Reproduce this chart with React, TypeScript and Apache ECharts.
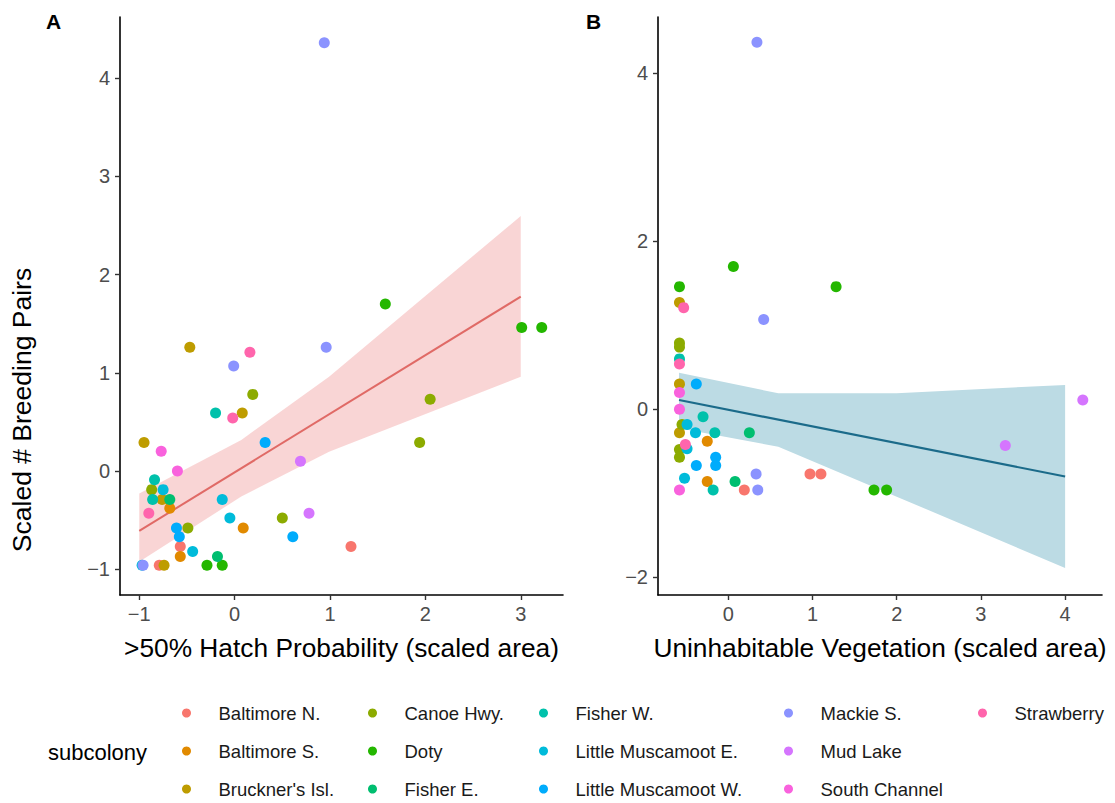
import React, { useEffect, useRef } from "react";
import * as echarts from "echarts";

const FONT = "'Liberation Sans', Arial, Helvetica, sans-serif";

const categories = [
  "Baltimore N.", "Baltimore S.", "Bruckner's Isl.", "Canoe Hwy.", "Doty", "Fisher E.",
  "Fisher W.", "Little Muscamoot E.", "Little Muscamoot W.", "Mackie S.", "Mud Lake",
  "South Channel", "Strawberry",
];
const palette = [
  "#F8766D", "#E18A00", "#BE9C00", "#8CAB00", "#24B700", "#00BE70", "#00C1AB",
  "#00BBDA", "#00ACFC", "#8B93FF", "#D575FE", "#F962DD", "#FF65AC",
];

// Panel A: [>50% hatch probability (scaled area), scaled # breeding pairs, category index]
const pointsHatch: number[][] = [
  [0.94, 4.36, 9], [-0.47, 1.26, 2], [0.16, 1.21, 12], [-0.01, 1.07, 9], [0.96, 1.26, 9],
  [1.58, 1.7, 4], [3.01, 1.46, 4], [3.22, 1.46, 4], [0.19, 0.78, 3], [-0.2, 0.59, 6],
  [-0.02, 0.54, 12], [0.08, 0.59, 2], [2.05, 0.73, 3], [-0.95, 0.29, 2], [0.32, 0.29, 8],
  [1.94, 0.29, 3], [-0.77, 0.2, 11], [0.69, 0.1, 10], [-0.6, 0.0, 11], [-0.84, -0.09, 6],
  [-0.87, -0.19, 3], [-0.75, -0.19, 7], [-0.86, -0.29, 6], [-0.76, -0.29, 2], [-0.68, -0.29, 5],
  [-0.68, -0.38, 1], [-0.9, -0.43, 12], [-0.13, -0.29, 7], [0.78, -0.43, 10], [-0.05, -0.48, 7],
  [0.5, -0.48, 3], [-0.61, -0.58, 8], [-0.49, -0.58, 3], [0.09, -0.58, 1], [-0.58, -0.67, 8],
  [0.61, -0.67, 8], [-0.57, -0.77, 0], [1.22, -0.77, 0], [-0.44, -0.82, 7], [-0.57, -0.87, 1],
  [-0.18, -0.87, 5], [-0.97, -0.96, 7], [-0.96, -0.96, 9], [-0.74, -0.96, 2], [-0.79, -0.96, 0],
  [-0.29, -0.96, 4], [-0.13, -0.96, 4],
];

// Panel B: [uninhabitable vegetation (scaled area), scaled # breeding pairs, category index]
const pointsVeg: number[][] = [
  [0.34, 4.37, 9], [0.06, 1.7, 4], [-0.58, 1.46, 4], [1.28, 1.46, 4], [-0.58, 1.27, 2],
  [-0.53, 1.21, 12], [0.42, 1.07, 9], [-0.58, 0.79, 3], [-0.58, 0.74, 3], [-0.58, 0.6, 6],
  [-0.58, 0.54, 12], [-0.58, 0.3, 2], [-0.38, 0.3, 8], [-0.58, 0.2, 11], [4.21, 0.11, 10],
  [-0.58, 0.0, 11], [-0.3, -0.09, 6], [-0.55, -0.18, 3], [-0.49, -0.18, 7], [-0.58, -0.28, 2],
  [-0.39, -0.28, 7], [-0.16, -0.28, 6], [0.25, -0.28, 5], [-0.25, -0.38, 1], [-0.51, -0.42, 12],
  [3.29, -0.43, 10], [-0.58, -0.48, 3], [-0.49, -0.47, 7], [-0.58, -0.57, 3], [-0.15, -0.57, 8],
  [-0.38, -0.67, 8], [-0.15, -0.67, 8], [0.33, -0.77, 9], [0.97, -0.77, 0], [1.1, -0.77, 0],
  [-0.52, -0.82, 7], [-0.25, -0.86, 1], [0.08, -0.86, 5], [-0.58, -0.96, 11], [-0.18, -0.96, 6],
  [0.19, -0.96, 0], [0.35, -0.96, 9], [1.73, -0.96, 4], [1.88, -0.96, 4],
];

// Fitted lines and confidence ribbons: [x, y] and [x, lower, upper]
const fitHatch = [[-1.0, -0.61], [3.0, 1.775]];
const ribbonHatch = [[-1.0, -0.924, -0.23], [0.07, -0.26, 0.316], [0.99, 0.197, 0.96], [3.0, 0.96, 2.597]];
const fitVeg = [[-0.585, 0.11], [4.0, -0.8]];
const ribbonVeg = [[-0.585, -0.226, 0.436], [0.594, -0.445, 0.19], [2.0, -1.04, 0.19], [4.0, -1.89, 0.29]];

const ticksHatchX = [-1, 0, 1, 2, 3];
const ticksHatchY = [-1, 0, 1, 2, 3, 4];
const ticksVegX = [0, 1, 2, 3, 4];
const ticksVegY = [-2, 0, 2, 4];

const legendColumns = [[0, 1, 2], [3, 4, 5], [6, 7, 8], [9, 10, 11], [12]];
const legendLeft = [182, 368, 539, 784, 978];

function xAxisCfg(grid: number, min: number, max: number, ticks: number[], name: string) {
  return {
    type: "value", gridIndex: grid, min, max, name, nameLocation: "middle", nameGap: 40,
    nameTextStyle: { fontSize: 26.3, color: "#000", fontFamily: FONT },
    axisLine: { show: true, onZero: false, lineStyle: { color: "#000", width: 1.6 } },
    axisTick: { show: true, length: 5, customValues: ticks, lineStyle: { color: "#333", width: 1.4 } },
    axisLabel: { customValues: ticks, fontSize: 20, color: "#4D4D4D", margin: 9, fontFamily: FONT,
      formatter: (v: number) => (v < 0 ? "\u2212" + Math.abs(v) : String(v)) },
    splitLine: { show: false },
  };
}
function yAxisCfg(grid: number, min: number, max: number, ticks: number[]) {
  return {
    type: "value", gridIndex: grid, min, max,
    axisLine: { show: true, onZero: false, lineStyle: { color: "#000", width: 1.6 } },
    axisTick: { show: true, length: 5, customValues: ticks, lineStyle: { color: "#333", width: 1.4 } },
    axisLabel: { customValues: ticks, fontSize: 20, color: "#4D4D4D", margin: 10, fontFamily: FONT,
      formatter: (v: number) => (v < 0 ? "\u2212" + Math.abs(v) : String(v)) },
    splitLine: { show: false },
  };
}

function ribbonSeries(rows: number[][], idx: number, fill: string) {
  return {
    type: "custom", xAxisIndex: idx, yAxisIndex: idx, z: 1, silent: true,
    data: rows, encode: { x: 0, y: [1, 2] },
    renderItem: (params: any, api: any) => {
      if (params.dataIndex !== 0) return null;
      const upper = rows.map((r) => api.coord([r[0], r[2]]));
      const lower = rows.map((r) => api.coord([r[0], r[1]])).reverse();
      return { type: "polygon", shape: { points: upper.concat(lower) }, style: { fill } };
    },
  };
}

function scatterSeries(points: number[][], idx: number) {
  return categories.map((name, c) => ({
    type: "scatter", name, xAxisIndex: idx, yAxisIndex: idx, z: 3, symbolSize: 11,
    itemStyle: { color: palette[c], opacity: 1 },
    data: points.filter((p) => p[2] === c).map((p) => [p[0], p[1]]),
  }));
}

export default function App() {
  const ref = useRef<HTMLDivElement>(null);
  useEffect(() => {
    const chart = echarts.init(ref.current!, null, { renderer: "svg" });
    const option: any = {
      animation: false,
      backgroundColor: "#fff",
      textStyle: { fontFamily: FONT },
      grid: [
        { left: 120, top: 17, width: 443, height: 578 },
        { left: 658, top: 17, width: 444, height: 578 },
      ],
      xAxis: [
        xAxisCfg(0, -1.202, 3.443, ticksHatchX, ">50% Hatch Probability (scaled area)"),
        xAxisCfg(1, -0.835, 4.438, ticksVegX, "Uninhabitable Vegetation (scaled area)"),
      ],
      yAxis: [
        yAxisCfg(0, -1.263, 4.623, ticksHatchY),
        yAxisCfg(1, -2.211, 4.67, ticksVegY),
      ],
      legend: legendColumns.map((col, i) => ({
        orient: "vertical", left: legendLeft[i], top: 703, padding: 0, itemGap: 18,
        itemWidth: 54, itemHeight: 9, icon: "circle", selectedMode: false,
        data: col.map((c) => categories[c]),
        textStyle: { fontSize: 18.5, lineHeight: 20, color: "#1a1a1a", fontFamily: FONT },
      })),
      graphic: [
        { type: "text", x: 46, y: 11, style: { text: "A", font: `bold 21px ${FONT}`, fill: "#000" } },
        { type: "text", x: 586, y: 11, style: { text: "B", font: `bold 21px ${FONT}`, fill: "#000" } },
        { type: "text", x: 22, y: 410, rotation: Math.PI / 2,
          style: { text: "Scaled # Breeding Pairs", font: `26.5px ${FONT}`, fill: "#000",
            textAlign: "center", textVerticalAlign: "middle" } },
        { type: "text", x: 48, y: 752,
          style: { text: "subcolony", font: `22px ${FONT}`, fill: "#000", textVerticalAlign: "middle" } },
      ],
      series: [
        ribbonSeries(ribbonHatch, 0, "rgba(240,150,150,0.4)"),
        ribbonSeries(ribbonVeg, 1, "#BCDBE4"),
        { type: "line", xAxisIndex: 0, yAxisIndex: 0, z: 2, symbol: "none", silent: true,
          data: fitHatch, lineStyle: { color: "#E06A66", width: 2 } },
        { type: "line", xAxisIndex: 1, yAxisIndex: 1, z: 2, symbol: "none", silent: true,
          data: fitVeg, lineStyle: { color: "#1B6B8A", width: 2.2 } },
        ...scatterSeries(pointsHatch, 0),
        ...scatterSeries(pointsVeg, 1),
      ],
    };
    chart.setOption(option);
    return () => chart.dispose();
  }, []);
  return (
    <div
      ref={ref}
      style={{ position: "fixed", left: 0, top: 0, width: 1115, height: 803, background: "#fff" }}
    />
  );
}
